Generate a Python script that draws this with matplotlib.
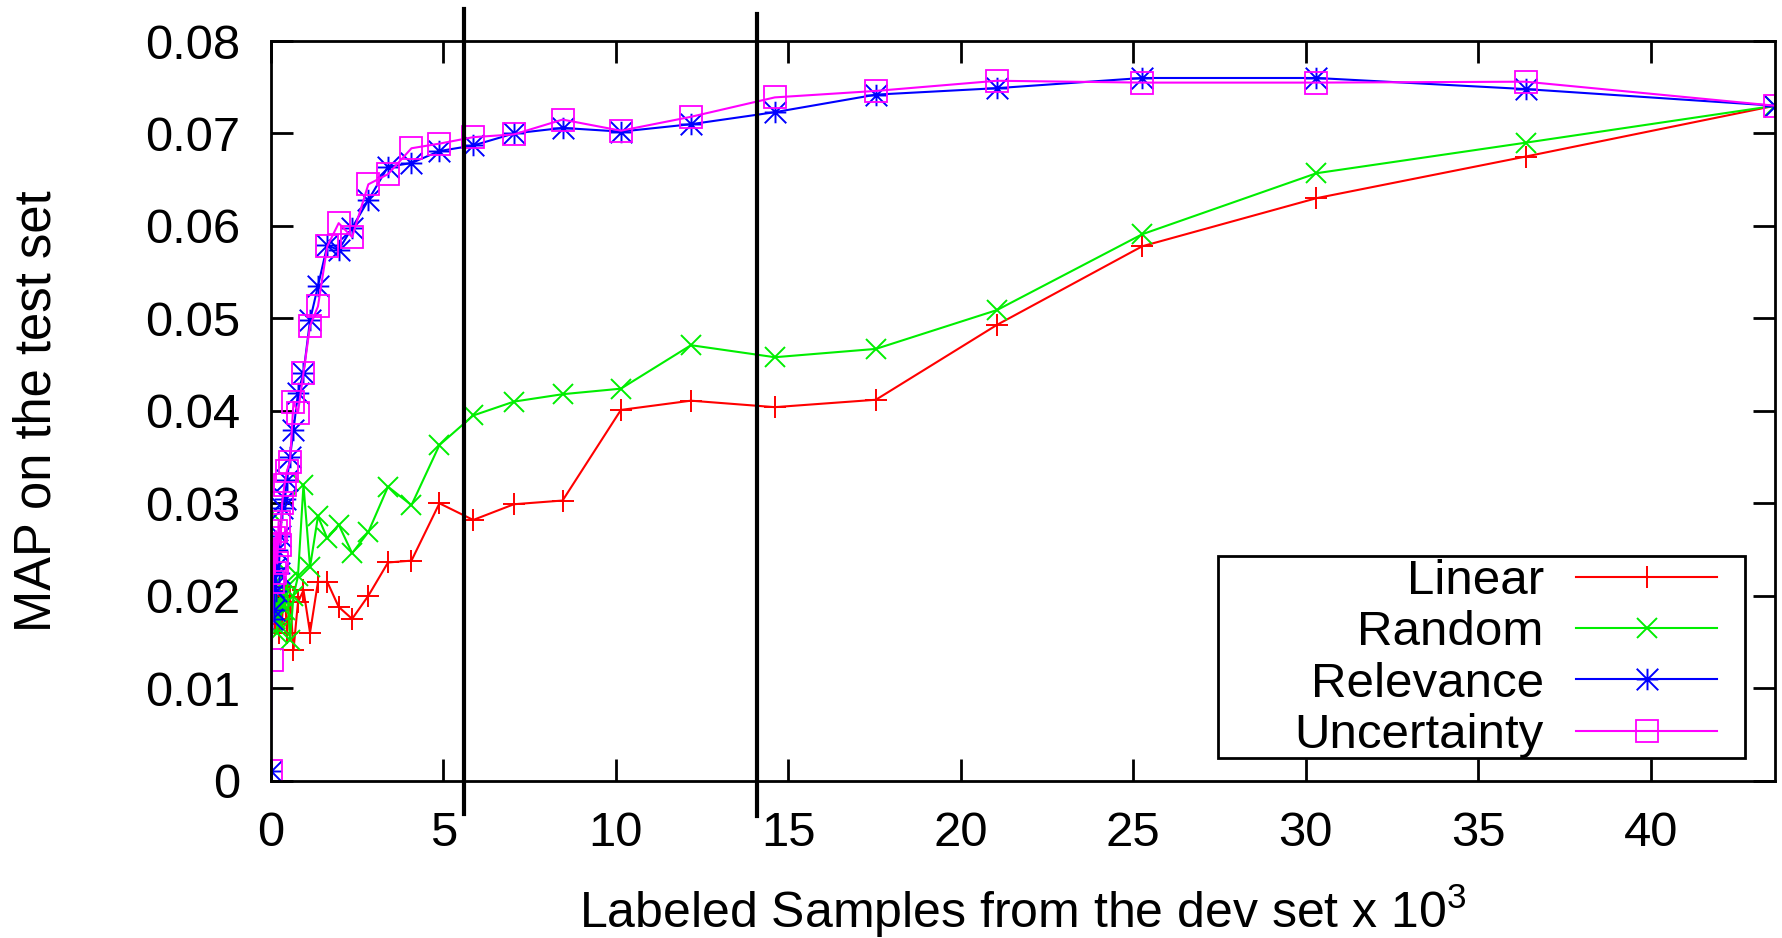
import matplotlib
matplotlib.use("Agg")
import matplotlib.pyplot as plt
from matplotlib.path import Path
from matplotlib.patches import Rectangle
from matplotlib.ticker import FuncFormatter

plt.rcParams['font.family'] = ['Liberation Sans', 'DejaVu Sans']
plt.rcParams['mathtext.fontset'] = 'custom'
plt.rcParams['mathtext.rm'] = 'Liberation Sans'

# ---------------- data (thousands of labeled samples, MAP) ----------------
x_rel = [0.0, 0.03, 0.06, 0.09, 0.12, 0.15, 0.19, 0.23, 0.28, 0.33, 0.40, 0.47,
         0.56, 0.66, 0.79, 0.95, 1.14, 1.37, 1.64, 1.97, 2.36, 2.83, 3.40, 4.08,
         4.89, 5.87, 7.05, 8.46, 10.15, 12.18, 14.61, 17.54, 21.05, 25.26, 30.31,
         36.37, 43.6]
relevance = [0.0010, 0.0175, 0.0210, 0.0185, 0.0230, 0.0205, 0.0250, 0.0225, 0.0265,
             0.0295, 0.0305, 0.0325, 0.0350, 0.0379, 0.0419, 0.0441, 0.0498, 0.0535,
             0.0579, 0.0574, 0.0598, 0.0628, 0.0664, 0.0668, 0.0681, 0.0687, 0.0700,
             0.0706, 0.0702, 0.0710, 0.0723, 0.0742, 0.0749, 0.0760, 0.0760, 0.0748,
             0.0730]
uncertainty = [0.0010, 0.0131, 0.0215, 0.0262, 0.0225, 0.0270, 0.0235, 0.0280, 0.0255,
               0.0300, 0.0320, 0.0335, 0.0345, 0.0410, 0.0398, 0.0441, 0.0492, 0.0513,
               0.0578, 0.0603, 0.0588, 0.0645, 0.0656, 0.0684, 0.0689, 0.0696, 0.0699,
               0.0715, 0.0703, 0.0718, 0.0739, 0.0746, 0.0757, 0.0755, 0.0755, 0.0756,
               0.0730]

x_base = [0.03, 0.06, 0.09, 0.12, 0.15, 0.19, 0.23, 0.28, 0.33, 0.40, 0.47,
          0.56, 0.66, 0.79, 0.95, 1.14, 1.37, 1.64, 1.97, 2.36, 2.83, 3.40, 4.08,
          4.89, 5.87, 7.05, 8.46, 10.15, 12.18, 14.61, 17.54, 21.05, 25.26, 30.31,
          36.37, 43.6]
random_ = [0.0290, 0.0200, 0.0240, 0.0175, 0.0215, 0.0160, 0.0195, 0.0167, 0.0200,
           0.0185, 0.0215, 0.0152, 0.0200, 0.0221, 0.0320, 0.0231, 0.0286, 0.0262,
           0.0277, 0.0246, 0.0269, 0.0318, 0.0298, 0.0363, 0.0395, 0.0410, 0.0418,
           0.0424, 0.0471, 0.0458, 0.0467, 0.0509, 0.0591, 0.0657, 0.0690, 0.0730]
linear = [0.0210, 0.0185, 0.0200, 0.0170, 0.0205, 0.0185, 0.0160, 0.0195, 0.0175,
          0.0210, 0.0160, 0.0199, 0.0141, 0.0193, 0.0206, 0.0160, 0.0215, 0.0215,
          0.0188, 0.0175, 0.0200, 0.0236, 0.0238, 0.0300, 0.0282, 0.0299, 0.0303,
          0.0401, 0.0411, 0.0404, 0.0412, 0.0493, 0.0578, 0.0630, 0.0675, 0.0730]

vlines_x = [5.60, 14.1]
series_names = ['Linear', 'Random', 'Relevance', 'Uncertainty']
x_ticks = [0, 5, 10, 15, 20, 25, 30, 35, 40]
y_ticks = [0, 0.01, 0.02, 0.03, 0.04, 0.05, 0.06, 0.07, 0.08]

# ---------------- figure ----------------
W, H, DPI = 1783, 938, 100
fig = plt.figure(figsize=(W / DPI, H / DPI), dpi=DPI)
ax = fig.add_axes([270.7 / W, 1 - 780.7 / H, (1775 - 270.7) / W, (780.7 - 41) / H])

star = Path([(-1, 0), (1, 0), (0, -1), (0, 1), (-1, -1), (1, 1), (-1, 1), (1, -1)],
            [Path.MOVETO, Path.LINETO] * 4)

lw = 1.5
ax.plot(x_base, linear, color='#ff0000', lw=lw, marker='+', ms=16, mew=1.4,
        label=series_names[0])
ax.plot(x_base, random_, color='#00ee00', lw=lw, marker='x', ms=15, mew=1.4,
        label=series_names[1])
ax.plot(x_rel, relevance, color='#0000ff', lw=lw, marker=star, ms=15.5, mew=1.4,
        label=series_names[2])
ax.plot(x_rel, uncertainty, color='#ff00ff', lw=lw, marker='s', ms=16, mew=1.3,
        mfc='none', label=series_names[3])

# vertical separators (extend beyond the frame)
ax.axvline(vlines_x[0], ymin=-0.045, ymax=1.043, color='black', lw=3.0, clip_on=False)
ax.axvline(vlines_x[1], ymin=-0.048, ymax=1.036, color='black', lw=3.0, clip_on=False)

ax.set_xlim(0, 43.6)
ax.set_ylim(0, 0.08)
ax.set_xticks(x_ticks)
ax.set_yticks(y_ticks)
ax.yaxis.set_major_formatter(FuncFormatter(lambda v, p: '0' if abs(v) < 1e-12 else f'{v:.2f}'))
ax.tick_params(axis='both', which='major', direction='in', length=16, width=2.0,
               labelsize=35.3, pad=22, top=True, right=True, colors='black')
for s in ax.spines.values():
    s.set_linewidth(2.0)
    s.set_color('black')

ax.set_xlabel(r'Labeled Samples from the dev set x 10$^{\mathregular{3}}$', fontsize=36)
ax.xaxis.set_label_coords(0.5, -0.137)
ax.xaxis.label.set_va('top')
ax.set_ylabel('MAP on the test set', fontsize=36.5)
ax.yaxis.set_label_coords(-0.139, 0.5)

leg = ax.legend(loc='lower right', bbox_to_anchor=(0.9614, 0.031), frameon=False,
                markerfirst=False, fontsize=35.5, handlelength=2.85, handletextpad=0.66,
                labelspacing=0.125, borderpad=0, borderaxespad=0, numpoints=1)
ax.add_patch(Rectangle((0.6297, 0.0307), 0.980 - 0.6297, 0.3038 - 0.0307,
                       transform=ax.transAxes, fill=False, lw=2.0, ec='black', zorder=5))

fig.savefig('out.png', dpi=DPI, facecolor='white')
